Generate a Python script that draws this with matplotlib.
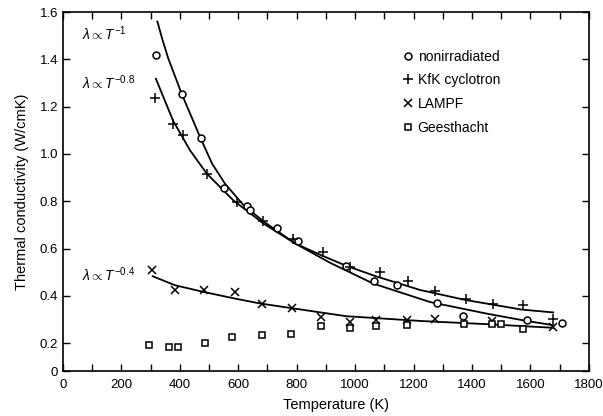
import matplotlib
matplotlib.use("Agg")
import matplotlib.pyplot as plt
from matplotlib.ticker import MultipleLocator

# measured points (temperature in K, conductivity in W/cmK)
T_nonirr = [320, 406, 472, 552, 631, 640, 731, 805, 968, 1065, 1142, 1279, 1370, 1587, 1707]
k_nonirr = [1.417, 1.255, 1.069, 0.857, 0.779, 0.765, 0.687, 0.631, 0.525, 0.463, 0.445, 0.368, 0.316, 0.298, 0.286]

T_kfk = [315, 378, 412, 494, 596, 686, 788, 889, 982, 1085, 1182, 1275, 1380, 1473, 1575, 1678]
k_kfk = [1.238, 1.128, 1.079, 0.917, 0.797, 0.717, 0.640, 0.586, 0.524, 0.501, 0.464, 0.420, 0.387, 0.366, 0.362, 0.304]

T_lampf = [303, 383, 483, 589, 682, 785, 882, 982, 1073, 1176, 1275, 1467, 1678]
k_lampf = [0.508, 0.425, 0.424, 0.415, 0.366, 0.348, 0.311, 0.290, 0.297, 0.297, 0.304, 0.293, 0.269]

T_geest = [296, 364, 394, 486, 578, 680, 781, 882, 982, 1073, 1176, 1373, 1470, 1501, 1575]
k_geest = [0.191, 0.184, 0.184, 0.199, 0.224, 0.234, 0.237, 0.273, 0.263, 0.272, 0.276, 0.280, 0.283, 0.283, 0.262]

# fitted curves
T_fit1 = [323, 340, 360, 406, 469, 510, 554, 617, 686, 794, 914, 1062, 1256, 1450, 1587, 1678]
k_fit1 = [1.56, 1.485, 1.405, 1.255, 1.072, 0.960, 0.875, 0.785, 0.715, 0.622, 0.540, 0.452, 0.374, 0.325, 0.294, 0.276]

T_fit08 = [318, 377, 435, 492, 583, 686, 794, 891, 970, 1073, 1222, 1376, 1570, 1678]
k_fit08 = [1.318, 1.14, 1.015, 0.917, 0.804, 0.706, 0.622, 0.568, 0.527, 0.482, 0.425, 0.383, 0.342, 0.330]

T_fit04 = [307, 383, 480, 583, 674, 788, 970, 1222, 1456, 1678]
k_fit04 = [0.483, 0.445, 0.417, 0.390, 0.368, 0.347, 0.314, 0.294, 0.280, 0.265]

ytick_vals = [0.2, 0.4, 0.6, 0.8, 1.0, 1.2, 1.4, 1.6]
ytick_labels = ["0.2", "0.4", "0.6", "0.8", "1.0", "1.2", "1.4", "1.6"]

plt.rcParams['font.family'] = ['Liberation Sans', 'DejaVu Sans']
plt.rcParams['mathtext.fontset'] = 'custom'
plt.rcParams['mathtext.rm'] = 'Liberation Sans'
plt.rcParams['mathtext.it'] = 'Liberation Sans:italic'
fig = plt.figure(figsize=(6.03, 4.16), dpi=100)
ax = fig.add_axes([0.1045, 0.108, 0.872, 0.863])

ax.plot(T_fit1, k_fit1, color='black', lw=1.3)
ax.plot(T_fit08, k_fit08, color='black', lw=1.3)
ax.plot(T_fit04, k_fit04, color='black', lw=1.3)

ax.plot(T_nonirr, k_nonirr, 'o', ms=5, mfc='white', mec='black', mew=1.1, ls='none', label='nonirradiated')
ax.plot(T_kfk, k_kfk, '+', ms=6.5, color='black', mew=1.1, ls='none', label='KfK cyclotron')
ax.plot(T_lampf, k_lampf, 'x', ms=5.5, color='black', mew=1.1, ls='none', label='LAMPF')
ax.plot(T_geest, k_geest, 's', ms=4.5, mfc='white', mec='black', mew=1.1, ls='none', label='Geesthacht')

ax.set_xlim(0, 1800)
ax.set_ylim(0.082, 1.6)
ax.xaxis.set_major_locator(MultipleLocator(200))
ax.xaxis.set_minor_locator(MultipleLocator(100))
ax.set_yticks([0.082] + ytick_vals)
ax.set_yticklabels(["0"] + ytick_labels)
ax.tick_params(which='both', direction='in', top=True, right=True, length=5, width=1, labelsize=9.5)
ax.tick_params(axis='x', pad=6)
for s in ax.spines.values():
    s.set_linewidth(1.2)

ax.text(65, 1.51, r'$\lambda \propto T^{-1}$', fontsize=10, va='center')
ax.text(65, 1.30, r'$\lambda \propto T^{-0.8}$', fontsize=10, va='center')
ax.text(65, 0.49, r'$\lambda \propto T^{-0.4}$', fontsize=10, va='center')

ax.legend(loc='upper left', bbox_to_anchor=(0.635, 0.915), frameon=False, fontsize=10,
          handlelength=0.6, handletextpad=0.4, labelspacing=0.7, borderpad=0)

ax.set_xlabel("Temperature (K)", fontsize=10.5)
ax.set_ylabel("Thermal conductivity (W/cmK)", fontsize=10.5, labelpad=8)
ax.xaxis.set_label_coords(0.52, -0.075)

plt.savefig('out.png', dpi=100)
